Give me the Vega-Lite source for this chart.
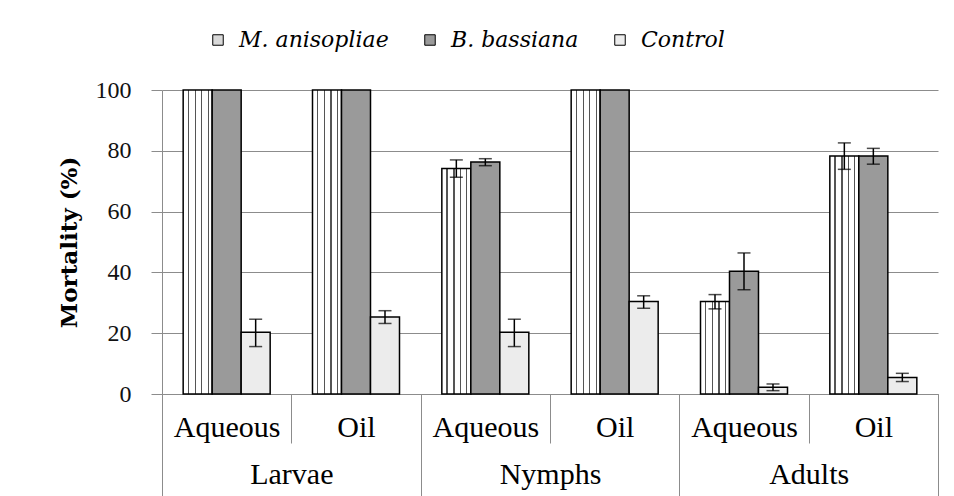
{
  "$schema": "https://vega.github.io/schema/vega-lite/v6.json",
  "autosize": "none",
  "padding": {"left": 162, "top": 90, "right": 16, "bottom": 102},
  "width": 776,
  "height": 304,
  "background": "white",
  "config": {
    "view": {"stroke": null},
    "font": "Liberation Serif"
  },
  "data": {
    "values": [
      {"stage": "Larvae", "grp": "Larvae|Aqueous", "series": "M. anisopliae", "value": 100, "lo": null, "hi": null},
      {"stage": "Larvae", "grp": "Larvae|Aqueous", "series": "B. bassiana", "value": 100, "lo": null, "hi": null},
      {"stage": "Larvae", "grp": "Larvae|Aqueous", "series": "Control", "value": 20.3, "lo": 15.6, "hi": 24.6},
      {"stage": "Larvae", "grp": "Larvae|Oil", "series": "M. anisopliae", "value": 100, "lo": null, "hi": null},
      {"stage": "Larvae", "grp": "Larvae|Oil", "series": "B. bassiana", "value": 100, "lo": null, "hi": null},
      {"stage": "Larvae", "grp": "Larvae|Oil", "series": "Control", "value": 25.3, "lo": 23.2, "hi": 27.4},
      {"stage": "Nymphs", "grp": "Nymphs|Aqueous", "series": "M. anisopliae", "value": 74.2, "lo": 71.3, "hi": 77.0},
      {"stage": "Nymphs", "grp": "Nymphs|Aqueous", "series": "B. bassiana", "value": 76.3, "lo": 75.1, "hi": 77.4},
      {"stage": "Nymphs", "grp": "Nymphs|Aqueous", "series": "Control", "value": 20.3, "lo": 15.6, "hi": 24.6},
      {"stage": "Nymphs", "grp": "Nymphs|Oil", "series": "M. anisopliae", "value": 100, "lo": null, "hi": null},
      {"stage": "Nymphs", "grp": "Nymphs|Oil", "series": "B. bassiana", "value": 100, "lo": null, "hi": null},
      {"stage": "Nymphs", "grp": "Nymphs|Oil", "series": "Control", "value": 30.4, "lo": 28.2, "hi": 32.3},
      {"stage": "Adults", "grp": "Adults|Aqueous", "series": "M. anisopliae", "value": 30.4, "lo": 28.0, "hi": 32.7},
      {"stage": "Adults", "grp": "Adults|Aqueous", "series": "B. bassiana", "value": 40.4, "lo": 34.3, "hi": 46.4},
      {"stage": "Adults", "grp": "Adults|Aqueous", "series": "Control", "value": 2.2, "lo": 1.1, "hi": 3.3},
      {"stage": "Adults", "grp": "Adults|Oil", "series": "M. anisopliae", "value": 78.3, "lo": 73.9, "hi": 82.6},
      {"stage": "Adults", "grp": "Adults|Oil", "series": "B. bassiana", "value": 78.3, "lo": 75.6, "hi": 80.8},
      {"stage": "Adults", "grp": "Adults|Oil", "series": "Control", "value": 5.4, "lo": 4.1, "hi": 6.8}
    ]
  },
  "resolve": {"scale": {"x": "independent"}},
  "layer": [
    {
      "encoding": {
        "x": {
          "field": "grp",
          "type": "nominal",
          "sort": ["Larvae|Aqueous", "Larvae|Oil", "Nymphs|Aqueous", "Nymphs|Oil", "Adults|Aqueous", "Adults|Oil"],
          "scale": {"paddingInner": 0, "paddingOuter": 0},
          "axis": {
            "orient": "bottom",
            "title": null,
            "labelExpr": "split(datum.value, '|')[1]",
            "labelAngle": 0,
            "labelFont": "Liberation Serif",
            "labelFontSize": 30,
            "labelColor": "#000000",
            "labelPadding": -31,
            "tickBand": "extent",
            "tickSize": 49,
            "tickColor": "#8c8c8c",
            "tickWidth": 1,
            "domainColor": "#8c8c8c",
            "domainWidth": 1,
            "grid": false
          }
        },
        "xOffset": {
          "field": "series",
          "type": "nominal",
          "sort": ["M. anisopliae", "B. bassiana", "Control"],
          "scale": {"paddingInner": 0, "paddingOuter": 0.73}
        }
      },
      "layer": [
        {
          "mark": {"type": "bar", "stroke": "#000000", "strokeWidth": 1.5},
          "encoding": {
            "y": {
              "field": "value",
              "type": "quantitative",
              "scale": {"domain": [0, 100], "nice": false},
              "axis": {
                "values": [0, 20, 40, 60, 80, 100],
                "title": "Mortality (%)",
                "titleFont": "DejaVu Serif",
                "titleFontSize": 23,
                "titleFontWeight": "bold",
                "titleColor": "#000000",
                "titlePadding": 14,
                "labelFont": "Liberation Serif",
                "labelFontSize": 24,
                "labelColor": "#111111",
                "labelPadding": 20,
                "tickSize": 11,
                "tickColor": "#8c8c8c",
                "domainColor": "#8c8c8c",
                "gridColor": "#8c8c8c",
                "gridWidth": 1
              }
            },
            "fill": {
              "condition": {
                "test": "datum.series === 'M. anisopliae'",
                "value": {
                  "gradient": "linear",
                  "x1": 0, "y1": 0, "x2": 1, "y2": 0,
                  "stops": [
                    {"offset": 0, "color": "#ffffff"},
                    {"offset": 0.16, "color": "#ffffff"},
                    {"offset": 0.16, "color": "#555555"},
                    {"offset": 0.2, "color": "#555555"},
                    {"offset": 0.2, "color": "#ffffff"},
                    {"offset": 0.4, "color": "#ffffff"},
                    {"offset": 0.4, "color": "#555555"},
                    {"offset": 0.44, "color": "#555555"},
                    {"offset": 0.44, "color": "#ffffff"},
                    {"offset": 0.62, "color": "#ffffff"},
                    {"offset": 0.62, "color": "#555555"},
                    {"offset": 0.66, "color": "#555555"},
                    {"offset": 0.66, "color": "#ffffff"},
                    {"offset": 0.84, "color": "#ffffff"},
                    {"offset": 0.84, "color": "#555555"},
                    {"offset": 0.88, "color": "#555555"},
                    {"offset": 0.88, "color": "#ffffff"},
                    {"offset": 1, "color": "#ffffff"}
                  ]
                }
              },
              "field": "series",
              "type": "nominal",
              "sort": ["M. anisopliae", "B. bassiana", "Control"],
              "scale": {"domain": ["M. anisopliae", "B. bassiana", "Control"], "range": ["#d9d9d9", "#9a9a9a", "#ececec"]},
              "legend": {
                "orient": "none",
                "legendX": 45,
                "legendY": -61,
                "direction": "horizontal",
                "columns": 3,
                "columnPadding": 30,
                "title": null,
                "symbolType": "square",
                "symbolSize": 110,
                "symbolStrokeColor": "#000000",
                "symbolStrokeWidth": 1,
                "labelFont": "DejaVu Serif",
                "labelFontSize": 22,
                "labelFontStyle": "italic",
                "labelColor": "#000000",
                "labelOffset": 10,
                "labelLimit": 400
              }
            }
          }
        },
        {
          "transform": [{"filter": "isValid(datum.lo)"}],
          "mark": {"type": "rule", "color": "#000000", "strokeWidth": 1.5},
          "encoding": {
            "y": {"field": "lo", "type": "quantitative"},
            "y2": {"field": "hi"}
          }
        },
        {
          "transform": [{"filter": "isValid(datum.lo)"}],
          "mark": {"type": "tick", "color": "#000000", "size": 13, "thickness": 1.5},
          "encoding": {
            "y": {"field": "lo", "type": "quantitative"}
          }
        },
        {
          "transform": [{"filter": "isValid(datum.hi)"}],
          "mark": {"type": "tick", "color": "#000000", "size": 13, "thickness": 1.5},
          "encoding": {
            "y": {"field": "hi", "type": "quantitative"}
          }
        }
      ]
    },
    {
      "mark": {"type": "rule", "opacity": 0},
      "encoding": {
        "x": {
          "field": "stage",
          "type": "nominal",
          "sort": ["Larvae", "Nymphs", "Adults"],
          "scale": {"paddingInner": 0, "paddingOuter": 0},
          "axis": {
            "orient": "bottom",
            "title": null,
            "labelAngle": 0,
            "labelFont": "Liberation Serif",
            "labelFontSize": 30,
            "labelColor": "#000000",
            "labelPadding": -45,
            "tickBand": "extent",
            "tickSize": 110,
            "tickColor": "#8c8c8c",
            "tickWidth": 1,
            "domain": false,
            "grid": false
          }
        }
      }
    }
  ]
}
